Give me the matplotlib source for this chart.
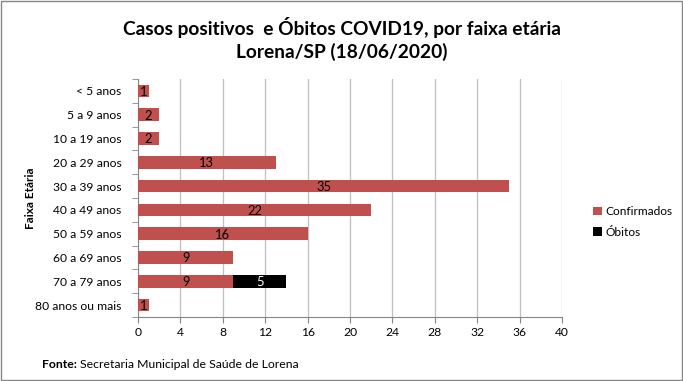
import numpy as np
import matplotlib.pyplot as plt

plt.rcParams['font.family'] = ['Lato', 'DejaVu Sans']

faixas = ["< 5 anos", "5 a 9 anos", "10 a 19 anos", "20 a 29 anos", "30 a 39 anos",
          "40 a 49 anos", "50 a 59 anos", "60 a 69 anos", "70 a 79 anos", "80 anos ou mais"]
confirmados = [1, 2, 2, 13, 35, 22, 16, 9, 9, 1]
obitos = [0, 0, 0, 0, 0, 0, 0, 0, 5, 0]
xticks = [0, 4, 8, 12, 16, 20, 24, 28, 32, 36, 40]

fig = plt.figure(figsize=(6.83, 3.81), dpi=100)
ax = fig.add_axes([138 / 683, 1 - 317 / 381, (562 - 138) / 683, (317 - 79) / 381])

y = np.arange(len(faixas))
b1 = ax.barh(y, confirmados, height=0.53, color='#C0504D', label='Confirmados', zorder=3)
b2 = ax.barh(y, obitos, left=confirmados, height=0.53, color='black', label='Óbitos', zorder=3)

for i in range(len(faixas)):
    ax.text(confirmados[i] / 2, y[i] + 0.04, str(confirmados[i]), ha='center', va='center',
            fontsize=9.3, color='black', zorder=4)
    if obitos[i] > 0:
        ax.text(confirmados[i] + obitos[i] / 2, y[i] + 0.04, str(obitos[i]), ha='center',
                va='center', fontsize=9.3, color='white', zorder=4)

ax.set_ylim(len(faixas) - 0.5, -0.5)
ax.set_xlim(0, 40)
ax.set_xticks(xticks)
ax.set_yticks(y)
ax.set_yticklabels(faixas)
ax.set_yticks(np.arange(-0.5, len(faixas), 1), minor=True)
ax.tick_params(axis='y', which='major', length=0, pad=12, labelsize=8.7)
ax.tick_params(axis='y', which='minor', length=4, color='#868686')
ax.tick_params(axis='x', length=4, color='#868686', labelsize=8.7, pad=3)
ax.grid(axis='x', color='#BFBFBF', linewidth=0.9, zorder=0)
for s in ['top', 'right']:
    ax.spines[s].set_visible(False)
for s in ['left', 'bottom']:
    ax.spines[s].set_color('#868686')

ax.set_ylabel('Faixa Etária', fontsize=8.5, fontweight='bold')
ax.yaxis.set_label_coords(-0.24, 0.5)

fig.text(0.5, 1 - 27 / 381, 'Casos positivos  e Óbitos COVID19, por faixa etária',
         ha='center', va='center', fontsize=13.8, fontweight='bold')
fig.text(0.5, 1 - 52 / 381, 'Lorena/SP (18/06/2020)',
         ha='center', va='center', fontsize=13.8, fontweight='bold')

fig.legend(handles=[b1, b2], loc='center left', bbox_to_anchor=(582 / 683, 1 - 222 / 381),
           frameon=False, fontsize=8.6, handlelength=0.75, handleheight=0.75,
           handletextpad=0.3, labelspacing=0.8)

t = fig.text(42 / 683, 1 - 364 / 381, 'Fonte:', ha='left', va='center',
             fontsize=8.8, fontweight='bold')
fig.canvas.draw()
bb = t.get_window_extent()
fig.text(bb.x1 / 683 + 3 / 683, 1 - 364 / 381, 'Secretaria Municipal de Saúde de Lorena',
         ha='left', va='center', fontsize=8.8)

fig.patches.append(plt.Rectangle((1 / 683, 1 / 381), 681 / 683, 379 / 381,
                                 transform=fig.transFigure, fill=False,
                                 edgecolor='#868686', linewidth=1))

fig.savefig('out.png', dpi=100)
